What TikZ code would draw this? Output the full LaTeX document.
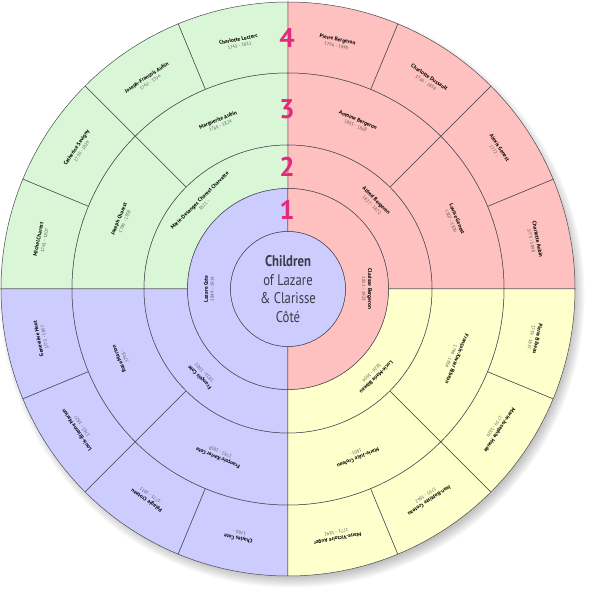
\documentclass[tikz,border=0pt]{standalone}
\usepackage{fontspec}
\setmainfont{PT Sans}
\newfontfamily\narrowfont[FakeStretch=0.82]{PT Sans}
\definecolor{fanGreen}{HTML}{D9F7D6}
\definecolor{fanPink}{HTML}{FFC0C0}
\definecolor{fanBlue}{HTML}{CCCCFF}
\definecolor{fanYellow}{HTML}{FFFFCC}
\definecolor{genPink}{HTML}{E4287C}
\definecolor{lineGray}{HTML}{4A4A52}
\definecolor{textGray}{HTML}{3C3C48}
\tikzset{
  cell/.style={draw=lineGray,line width=0.5pt},
  person/.style={align=center,inner sep=0pt,text=black,
    font=\fontsize{5.4}{6.2}\selectfont\bfseries},
  gennum/.style={inner sep=0pt,text=genPink,font=\fontsize{27}{27}\selectfont\bfseries},
}
% one cell of the fan: from angle, to angle, inner radius, outer radius, colour
\newcommand{\fancell}[5]{%
  \filldraw[cell,fill=#5] (#1:#3) arc[start angle=#1,end angle=#2,radius=#3]
    -- (#2:#4) arc[start angle=#2,end angle=#1,radius=#4] -- cycle;}
\newcommand{\born}[1]{{\mdseries\color{black!65}\fontsize{4.6}{5}\selectfont #1}}
\begin{document}
\begin{tikzpicture}[x=1pt,y=1pt]
\useasboundingbox (-288,-310) rectangle (312,289);
% soft shadow
\foreach \k in {0,...,9}
  \fill[black,opacity=0.035] (4,-6) circle (278+\k*1.6);
% ring 4
\foreach \a in {0,22.5,45,67.5} \fancell{\a}{\a+22.5}{216}{287}{fanPink};
\foreach \a in {90,112.5,135,157.5} \fancell{\a}{\a+22.5}{216}{287}{fanGreen};
\foreach \a in {180,202.5,225,247.5} \fancell{\a}{\a+22.5}{216}{287}{fanBlue};
\foreach \a in {270,292.5,315,337.5} \fancell{\a}{\a+22.5}{216}{287}{fanYellow};
% ring 3
\fancell{0}{45}{144}{216}{fanPink}
\fancell{45}{90}{144}{216}{fanPink}
\fancell{90}{135}{144}{216}{fanGreen}
\fancell{135}{180}{144}{216}{fanGreen}
\fancell{180}{225}{144}{216}{fanBlue}
\fancell{225}{270}{144}{216}{fanBlue}
\fancell{270}{315}{144}{216}{fanYellow}
\fancell{315}{360}{144}{216}{fanYellow}
% ring 2
\fancell{0}{90}{100.5}{144}{fanPink}
\fancell{90}{180}{100.5}{144}{fanGreen}
\fancell{180}{270}{100.5}{144}{fanBlue}
\fancell{270}{360}{100.5}{144}{fanYellow}
% ring 1
\fancell{90}{270}{57.5}{100.5}{fanBlue}
\fancell{-90}{90}{57.5}{100.5}{fanPink}
\filldraw[cell,fill=fanBlue] (0,0) circle (57.5);

\node[align=center,text=textGray,font=\narrowfont\fontsize{15.5}{18.5}\selectfont] (children) at (0,0)
  {\textbf{Children}\\of Lazare\\\& Clarisse\\Côté};

% generation numbers
\foreach \r/\g in {79/1,122/2,180/3,251.5/4}
  \node[gennum] (gen\g) at (-1,\r) {\g};

% people
\foreach \a/\r/\who/\when [count=\i] in {
  180/79/Lazare Cote/1849 - 1914,
  0/79/Clarisse Bergeron/1851 - 1923,
  135/122/Marie-Desanges Charest Charvette/1821 -,
  45/122/Alfred Bergeron/1827 - 1872,
  225/122/François Cote/1826 - 1902,
  315/122/Lucie-Marie Bibeau/1826 - 1904,
  157.5/180/Joseph Charest/1785 - 1858,
  112.5/180/Marguerite Aubin/1769 - 1824,
  67.5/180/Antoine Bergeron/1805 - 1868,
  22.5/180/Louise Genest/1807 - 1836,
  202.5/180/Rose Marion/1798 -,
  247.5/180/François-Xavier Cote/1792 - 1858,
  292.5/180/Marie-Julie Croteau/1801 -,
  337.5/180/François-Xavier Bibeau/1799 - 1854,
  168.75/251.5/Michel Charest/1761 - 1807,
  146.25/251.5/Catherine Sevigny/1750 - 1829,
  123.75/251.5/Joseph-François Aubin/1742 - 1794,
  101.25/251.5/Charlotte Leclerc/1743 - 1811,
  78.75/251.5/Pierre Bergeron/1766 - 1848,
  56.25/251.5/Charlotte Dussault/1766 - 1858,
  33.75/251.5/Alexis Genest/1772 -,
  11.25/251.5/Charlotte Aubin/1775 - 1848,
  191.25/251.5/Geneviève Huot/1775 - 1857,
  213.75/251.5/Louis-Étienne Marion/1763 - 1827,
  236.25/251.5/Pélagie Croteau/1771 - 1811,
  258.75/251.5/Charles Cote/1760 -,
  281.25/251.5/Marie-Victoire Auger/1771 - 1842,
  303.75/251.5/Jean-Baptiste Croteau/1765 - 1842,
  326.25/251.5/Marie-Josephte Houde/1759 - 1829,
  348.75/251.5/Pierre Bibeau/1759 - 1837}
  \node[person,rotate=\a-90] (p\i) at (\a:\r) {\who\\\born{\when}};
\end{tikzpicture}
\end{document}
